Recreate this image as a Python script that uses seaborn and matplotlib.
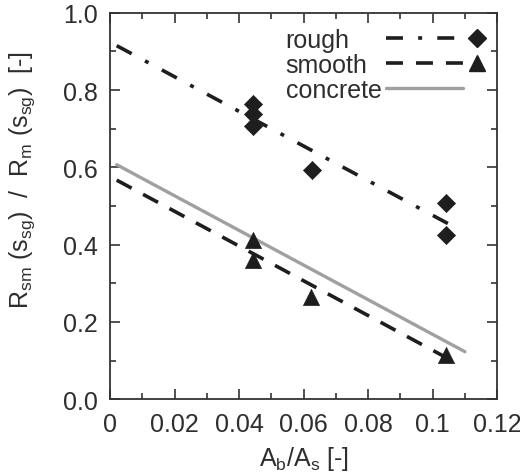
import matplotlib
matplotlib.use("Agg")
import matplotlib.pyplot as plt
import seaborn as sns
from matplotlib.lines import Line2D
from matplotlib.legend_handler import HandlerBase

# measured points
rough_x = [0.0444, 0.0444, 0.0444, 0.0625, 0.1040, 0.1040]
rough_y = [0.765, 0.737, 0.708, 0.594, 0.507, 0.426]
smooth_x = [0.0444, 0.0444, 0.0623, 0.1040]
smooth_y = [0.413, 0.360, 0.265, 0.114]

# fitted lines (end points)
rough_fit_x = [0.002, 0.106]
rough_fit_y = [0.915, 0.449]
smooth_fit_x = [0.002, 0.1077]
smooth_fit_y = [0.567, 0.092]
concrete_fit_x = [0.002, 0.110]
concrete_fit_y = [0.607, 0.123]

x_ticks = [0, 0.02, 0.04, 0.06, 0.08, 0.1, 0.12]
x_labels = ['0', '0.02', '0.04', '0.06', '0.08', '0.1', '0.12']
y_ticks = [0, 0.2, 0.4, 0.6, 0.8, 1.0]
y_labels = ['0.0', '0.2', '0.4', '0.6', '0.8', '1.0']

sns.set_style("ticks")
plt.rcParams['font.family'] = ['Liberation Sans', 'DejaVu Sans']
plt.rcParams['mathtext.fontset'] = 'custom'
plt.rcParams['mathtext.rm'] = 'Liberation Sans'
plt.rcParams['mathtext.it'] = 'Liberation Sans'

dark = '#1e1e1e'
grey = '#a0a0a0'
txt = '#2e2e2e'
DPI = 100

fig, ax = plt.subplots(figsize=(5.2, 4.77), dpi=DPI)
fig.subplots_adjust(left=0.212, right=0.956, top=0.971, bottom=0.161)

sns.lineplot(x=rough_fit_x, y=rough_fit_y, ax=ax, color=dark, lw=2.6)
l_rough = ax.lines[-1]
l_rough.set_dashes([4.7, 4.2, 1.1, 4.2])
sns.lineplot(x=smooth_fit_x, y=smooth_fit_y, ax=ax, color=dark, lw=2.6)
l_smooth = ax.lines[-1]
l_smooth.set_dashes([4.7, 3.6])
sns.lineplot(x=concrete_fit_x, y=concrete_fit_y, ax=ax, color=grey, lw=2.4)
l_conc = ax.lines[-1]

sns.scatterplot(x=rough_x, y=rough_y, ax=ax, marker='D', s=85, color=dark,
                edgecolor=dark, linewidth=0.5, zorder=3)
sns.scatterplot(x=smooth_x, y=smooth_y, ax=ax, marker='^', s=135, color=dark,
                edgecolor=dark, linewidth=0.5, zorder=3)

ax.set_xticks(x_ticks)
ax.set_xticklabels(x_labels)
ax.set_xticks([0.01, 0.03, 0.05, 0.07, 0.09, 0.11], minor=True)
ax.set_yticks(y_ticks)
ax.set_yticklabels(y_labels)
ax.set_yticks([0.1, 0.3, 0.5, 0.7, 0.9], minor=True)
ax.set_xlim(0, 0.12)
ax.set_ylim(0, 1.0)
ax.tick_params(which='both', direction='in', top=True, right=True,
               labelsize=18, color='#333333', width=1.2, pad=9, labelcolor=txt)
ax.tick_params(which='major', length=7)
ax.tick_params(which='minor', length=4)
for sp in ax.spines.values():
    sp.set_linewidth(1.3)
    sp.set_color('#333333')

ax.set_xlabel(r'A$_\mathrm{b}$/A$_\mathrm{s}$ [-]', fontsize=18, color=txt, labelpad=6)
ax.set_ylabel(r'R$_\mathrm{sm}$ (s$_\mathrm{sg}$)  /  R$_\mathrm{m}$ (s$_\mathrm{sg}$)  [-]',
              fontsize=18, color=txt)
ax.yaxis.set_label_coords(-0.19, 0.57)


class LineThenMarker(HandlerBase):
    def __init__(self, marker=None, ms=9):
        super().__init__()
        self.marker = marker
        self.ms = ms

    def create_artists(self, legend, orig, xdescent, ydescent, width, height,
                       fontsize, trans):
        y = height / 2 - ydescent
        x0 = -xdescent
        ln = Line2D([x0, x0 + width * 0.78], [y, y])
        ln.update_from(orig)
        ln.set_marker('')
        ln.set_transform(trans)
        arts = [ln]
        if self.marker:
            mk = Line2D([x0 + width * 0.93], [y], marker=self.marker, ms=self.ms,
                        color=dark, ls='')
            mk.set_transform(trans)
            arts.append(mk)
        return arts


leg = ax.legend([l_rough, l_smooth, l_conc], ['rough', 'smooth', 'concrete'],
                handler_map={l_rough: LineThenMarker('D', 9),
                             l_smooth: LineThenMarker('^', 11),
                             l_conc: LineThenMarker(None)},
                loc='upper right', bbox_to_anchor=(0.966, 0.962), markerfirst=False,
                frameon=False, fontsize=18, handlelength=3.9, handletextpad=0.2,
                labelspacing=0.04, borderaxespad=0.0, borderpad=0.0)
for t in leg.get_texts():
    t.set_color(txt)

# left-align the labels while keeping the handles in one column
fig.canvas.draw()
rend = fig.canvas.get_renderer()
widths = [t.get_window_extent(rend).width for t in leg.get_texts()]
wmax = max(widths)
for column in leg._legend_handle_box.get_children():
    column.align = 'left'
    for row, w in zip(column.get_children(), widths):
        row.sep += (wmax - w) * 72.0 / DPI

fig.savefig('out.png', dpi=DPI)
